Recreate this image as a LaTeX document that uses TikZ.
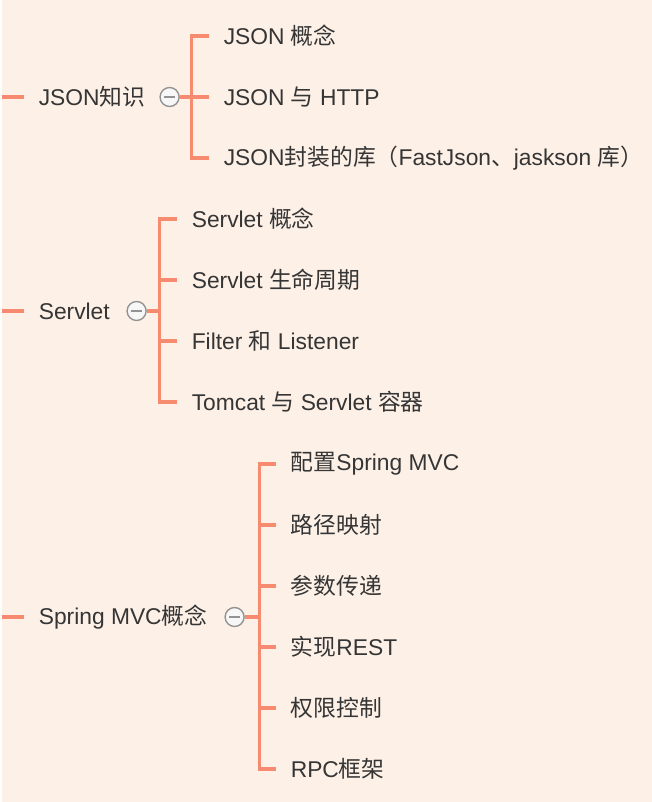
\documentclass[tikz,border=0pt]{standalone}
\usepackage{fontspec}
\setmainfont{Liberation Sans}
\newfontfamily\cjk{Noto Sans CJK SC}
\usetikzlibrary{positioning}
\definecolor{bgpeach}{HTML}{FDF0E7}
\definecolor{branch}{HTML}{F68B70}
\definecolor{txtgray}{HTML}{353535}

\begin{document}
\begin{tikzpicture}[x=1pt,y=-1pt,
  topic/.style={anchor=west,inner sep=0pt,text=txtgray,font=\fontsize{22.8}{27}\selectfont},
  fold/.style={circle,draw=gray!85,fill=gray!6,line width=1.4pt,minimum size=19pt,inner sep=0pt},
  wire/.style={branch,line width=3.2pt}]
  \fill[bgpeach] (0,0) rectangle (650,802);
  % JSON
  \coordinate (jin) at (0,97);
  \node[topic] (json) at (37,97) {JSON{\cjk 知识}};
  \node[fold] (jfold) at (168,97) {};
  \draw[gray!85,line width=1.4pt] ([xshift=-5.5pt]jfold.center) -- ([xshift=5.5pt]jfold.center);
  \node[topic] (ja) at (222,36) {JSON {\cjk 概念}};
  \node[topic] (jb) at (222,97) {JSON {\cjk 与} HTTP};
  \node[topic] (jc) at (222,158) {JSON{\cjk 封装的库（}FastJson{\cjk 、}jaskson {\cjk 库）}};
  \draw[wire] (jin) -- (22,97);
  \draw[wire] (jfold.east) -- ([xshift=-32pt]jb.west);
  \draw[wire] ([xshift=-15pt]ja.west) -- ++(-17,0) |- ([xshift=-15pt]jc.west);
  \draw[wire] ([xshift=-15pt]jb.west) -- ++(-17,0);
  % Servlet
  \coordinate (sin) at (0,311);
  \node[topic] (servlet) at (37,311) {Servlet};
  \node[fold] (sfold) at (135,311) {};
  \draw[gray!85,line width=1.4pt] ([xshift=-5.5pt]sfold.center) -- ([xshift=5.5pt]sfold.center);
  \node[topic] (sa) at (190,219) {Servlet {\cjk 概念}};
  \node[topic] (sb) at (190,280) {Servlet {\cjk 生命周期}};
  \node[topic] (sc) at (190,341) {Filter {\cjk 和} Listener};
  \node[topic] (sd) at (190,402) {Tomcat {\cjk 与} Servlet {\cjk 容器}};
  \draw[wire] (sin) -- (22,311);
  \draw[wire] (sfold.east) -- (159,311);
  \draw[wire] ([xshift=-15pt]sa.west) -- ++(-17,0) |- ([xshift=-15pt]sd.west);
  \draw[wire] ([xshift=-15pt]sb.west) -- ++(-17,0);
  \draw[wire] ([xshift=-15pt]sc.west) -- ++(-17,0);
  % Spring MVC
  \coordinate (min) at (0,617);
  \node[topic] (mvc) at (37,617) {Spring MVC{\cjk 概念}};
  \node[fold] (mfold) at (233,617) {};
  \draw[gray!85,line width=1.4pt] ([xshift=-5.5pt]mfold.center) -- ([xshift=5.5pt]mfold.center);
  \node[topic] (ma) at (289,464) {{\cjk 配置}Spring MVC};
  \node[topic] (mb) at (289,525) {\cjk 路径映射};
  \node[topic] (mc) at (289,586) {\cjk 参数传递};
  \node[topic] (md) at (289,647) {{\cjk 实现}REST};
  \node[topic] (me) at (289,708) {\cjk 权限控制};
  \node[topic] (mf) at (289,769) {RPC{\cjk 框架}};
  \draw[wire] (min) -- (22,617);
  \draw[wire] (mfold.east) -- (258,617);
  \draw[wire] ([xshift=-15pt]ma.west) -- ++(-16,0) |- ([xshift=-15pt]mf.west);
  \foreach \n in {mb,mc,md,me}
    \draw[wire] ([xshift=-15pt]\n.west) -- ++(-16,0);
\end{tikzpicture}
\end{document}
